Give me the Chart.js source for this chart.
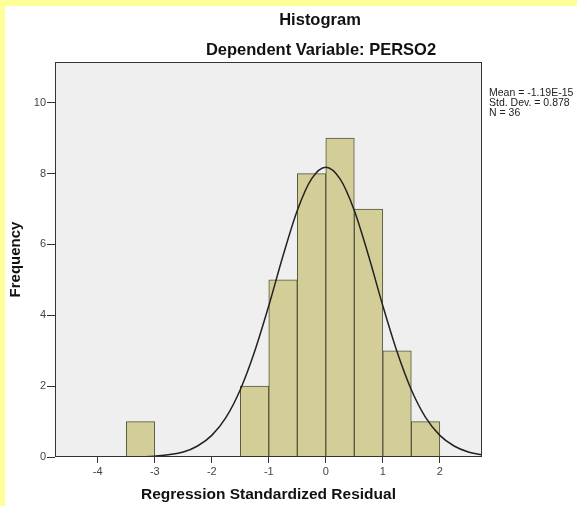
<!DOCTYPE html>
<html>
<head>
<meta charset="utf-8">
<script src="https://cdn.jsdelivr.net/npm/chart.js@4"></script>
<style>
  body { margin: 0; background: #fff; }
  canvas { display: block; }
</style>
</head>
<body>
<canvas id="histChart" width="577" height="506"></canvas>
<script>
// bins of width 0.5, centres and frequencies
const binCenters = [-3.25, -1.25, -0.75, -0.25, 0.25, 0.75, 1.25, 1.75];
const counts = [1, 2, 5, 8, 9, 7, 3, 1];

// normal curve
const curveX = [-4.75, -4, -3.5, -3, -2.5, -2.25, -2, -1.75, -1.5, -1.25, -1, -0.75, -0.5, -0.25, 0,
  0.25, 0.5, 0.75, 1, 1.25, 1.5, 1.75, 2, 2.25, 2.5, 2.74];
const curveY = [0, 0, 0.003, 0.024, 0.14, 0.31, 0.61, 1.12, 1.9, 2.97, 4.27, 5.68, 6.96, 7.85, 8.18,
  7.85, 6.96, 5.68, 4.27, 2.97, 1.9, 1.12, 0.61, 0.31, 0.14, 0.06];

const xTicks = [-4, -3, -2, -1, 0, 1, 2];
const yTicks = [0, 2, 4, 6, 8, 10];

const statLines = ["Mean = -1.19E-15", "Std. Dev. = 0.878", "N = 36"];

const fontFamily = "Arial, 'Liberation Sans', sans-serif";

// background, plot fill, frame and texts
const decorPlugin = {
  id: "decor",
  beforeDraw(chart) {
    const ctx = chart.ctx;
    const a = chart.chartArea;
    ctx.save();
    ctx.fillStyle = "#ffffff";
    ctx.fillRect(0, 0, chart.width, chart.height);
    ctx.fillStyle = "#ffff99";
    ctx.fillRect(0, 0, chart.width, 6);
    ctx.fillRect(0, 0, 5, chart.height);
    ctx.fillStyle = "#efefef";
    ctx.fillRect(a.left, a.top, a.right - a.left, a.bottom - a.top);
    ctx.restore();
  },
  afterDraw(chart) {
    const ctx = chart.ctx;
    const a = chart.chartArea;
    ctx.save();
    ctx.strokeStyle = "#333";
    ctx.lineWidth = 1;
    ctx.strokeRect(a.left + 0.5, a.top + 0.5, a.right - a.left - 1, a.bottom - a.top - 1);

    ctx.fillStyle = "#111";
    ctx.textAlign = "center";
    ctx.textBaseline = "middle";
    ctx.font = "bold 16.5px " + fontFamily;
    ctx.fillText("Histogram", 320, 20);
    ctx.fillText("Dependent Variable: PERSO2", 321, 50);

    ctx.textAlign = "left";
    ctx.font = "10.5px " + fontFamily;
    ctx.fillStyle = "#222";
    statLines.forEach((t, i) => {
      ctx.fillText(t, 489, 93 + i * 10);
    });
    ctx.restore();
  },
};

new Chart(document.getElementById("histChart"), {
  data: {
    datasets: [
      {
        type: "line",
        data: curveX.map((x, i) => ({ x: x, y: curveY[i] })),
        borderColor: "#222",
        borderWidth: 1.5,
        pointRadius: 0,
        cubicInterpolationMode: "monotone",
        fill: false,
        order: 0,
      },
      {
        type: "bar",
        data: binCenters.map((x, i) => ({ x: x, y: counts[i] })),
        backgroundColor: "#d3ce98",
        borderColor: "#55553f",
        borderWidth: 1,
        barPercentage: 1,
        categoryPercentage: 1,
        grouped: false,
        order: 1,
      },
    ],
  },
  options: {
    responsive: false,
    animation: false,
    layout: { padding: { left: 0, top: 62, right: 95, bottom: 0 } },
    plugins: {
      legend: { display: false },
      tooltip: { enabled: false },
    },
    scales: {
      x: {
        type: "linear",
        min: -4.75,
        max: 2.74,
        offset: false,
        afterFit: (scale) => { scale.height = 49; },
        afterBuildTicks: (scale) => { scale.ticks = xTicks.map((v) => ({ value: v })); },
        grid: { offset: false, drawOnChartArea: false, drawTicks: true, tickLength: 6, color: "#333" },
        border: { display: false },
        ticks: { color: "#444", font: { size: 11, family: fontFamily }, padding: 2, maxRotation: 0 },
        title: {
          display: true,
          text: "Regression Standardized Residual",
          color: "#111",
          font: { size: 15.5, weight: "bold", family: fontFamily },
          padding: { top: 0, bottom: 2 },
        },
      },
      y: {
        type: "linear",
        min: 0,
        max: 11.15,
        afterFit: (scale) => { scale.width = 55; },
        afterBuildTicks: (scale) => { scale.ticks = yTicks.map((v) => ({ value: v })); },
        grid: { drawOnChartArea: false, drawTicks: true, tickLength: 8, color: "#333" },
        border: { display: false },
        ticks: { color: "#444", font: { size: 11, family: fontFamily }, padding: 1 },
        title: {
          display: true,
          text: "Frequency",
          color: "#111",
          font: { size: 15, weight: "bold", family: fontFamily },
          padding: { top: 7, bottom: 0 },
        },
      },
    },
  },
  plugins: [decorPlugin],
});
</script>
</body>
</html>
